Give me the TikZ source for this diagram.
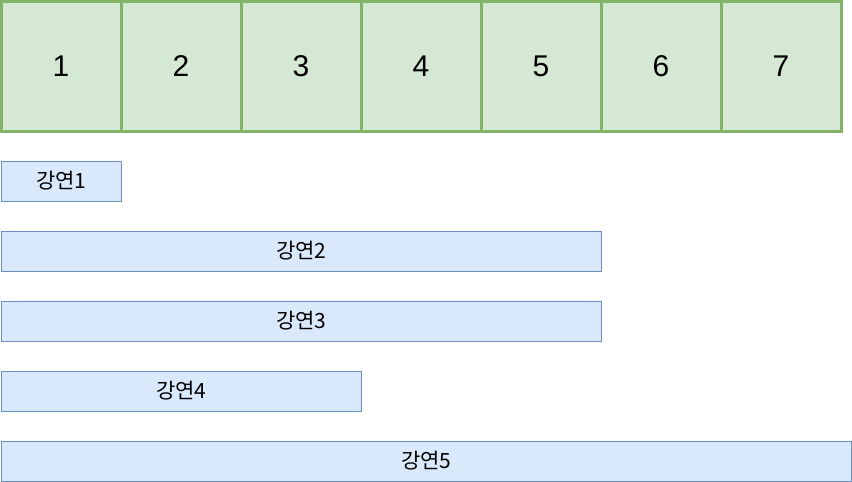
\documentclass[tikz,border=0pt]{standalone}
\usepackage{fontspec}
\setmainfont{Liberation Sans}
\newfontfamily\kor{Noto Sans CJK KR}
\definecolor{dayline}{HTML}{82B366}
\definecolor{dayfill}{HTML}{D5E8D4}
\definecolor{talkline}{HTML}{6C8EBF}
\definecolor{talkfill}{HTML}{DAE8FC}
\tikzset{
  daycell/.style={draw=dayline,fill=dayfill,line width=3pt,minimum width=120pt,
    minimum height=130pt,inner sep=0pt,font=\fontsize{30}{30}\selectfont},
  talkbar/.style={draw=talkline,fill=talkfill,line width=1pt,minimum height=40pt,
    inner sep=0pt,anchor=west,font=\kor\fontsize{21}{21}\selectfont}
}

\begin{document}
\begin{tikzpicture}[x=1pt,y=-1pt]
\useasboundingbox (0,0) rectangle (852,482);
% days
\foreach \d in {1,...,7}
  \node[daycell] (day\d) at ({61+120*(\d-1)},66) {\d};
% talks
\node[talkbar,minimum width=120pt] (talk1) at (1,181) {강연1};
\node[talkbar,minimum width=600pt] (talk2) at (1,251) {강연2};
\node[talkbar,minimum width=600pt] (talk3) at (1,321) {강연3};
\node[talkbar,minimum width=360pt] (talk4) at (1,391) {강연4};
\node[talkbar,minimum width=850pt] (talk5) at (1,461) {강연5};
\end{tikzpicture}
\end{document}
